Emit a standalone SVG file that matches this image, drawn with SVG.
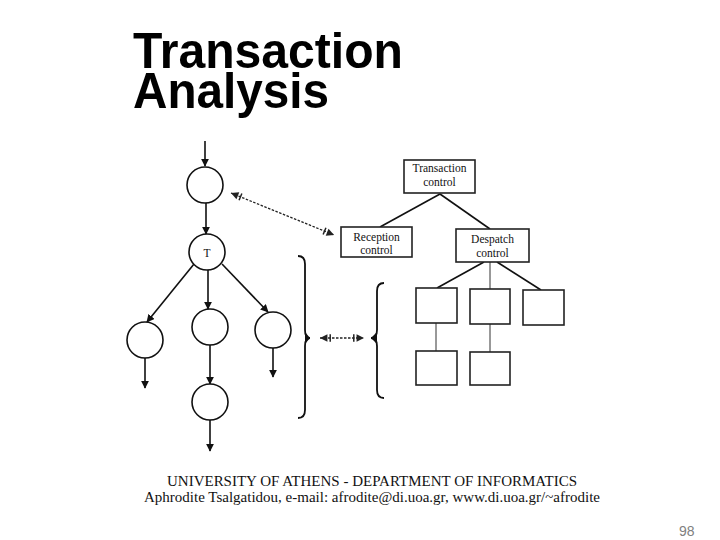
<svg xmlns="http://www.w3.org/2000/svg" width="720" height="540" viewBox="0 0 720 540">
<style>
.title{font-family:"Liberation Sans",Arial,sans-serif;font-weight:bold;font-size:50px;fill:#000}
.lbl{font-family:"Liberation Serif","Times New Roman",serif;font-size:11.5px;fill:#111;text-anchor:middle}
.foot{font-family:"Liberation Serif","Times New Roman",serif;font-size:15px;fill:#111}
.pg{font-family:"Liberation Sans",Arial,sans-serif;font-size:14px;fill:#808080}
.node{fill:#fff;stroke:#111;stroke-width:1.6}
.box{fill:#fff;stroke:#222;stroke-width:1.6}
.ln{stroke:#111;stroke-width:1.6;fill:none}
.thin{stroke:#333;stroke-width:1;fill:none}
.dash{stroke:#222;stroke-width:1.3;stroke-dasharray:2.5,1.5;fill:none}
.brace{stroke:#111;stroke-width:1.8;fill:none}
</style>
<defs>
<marker id="ah" viewBox="0 0 10 10" refX="9" refY="5" markerWidth="8" markerHeight="8" markerUnits="userSpaceOnUse" orient="auto">
<path d="M0,0 L10,5 L0,10 z" fill="#111"/>
</marker>
<marker id="dh" viewBox="0 0 14 10" refX="13" refY="5" markerWidth="13" markerHeight="10" markerUnits="userSpaceOnUse" orient="auto-start-reverse">
<path d="M5,1 L13,5 L5,9 z" fill="#222"/>
<path d="M2,1 L2,9" stroke="#222" stroke-width="1.6"/>
</marker>
</defs>
<rect width="720" height="540" fill="#fff"/>
<text class="title" x="133" y="68" textLength="270" lengthAdjust="spacingAndGlyphs">Transaction</text>
<text class="title" x="133" y="108" textLength="196" lengthAdjust="spacingAndGlyphs">Analysis</text>

<g id="connectors">
<line class="ln" x1="205" y1="141" x2="205" y2="166" marker-end="url(#ah)"/>
<line class="ln" x1="206" y1="203" x2="206" y2="234" marker-end="url(#ah)"/>
<line class="ln" x1="194" y1="264" x2="147" y2="322" marker-end="url(#ah)"/>
<line class="ln" x1="208" y1="270" x2="208" y2="309" marker-end="url(#ah)"/>
<line class="ln" x1="222" y1="264" x2="268" y2="312" marker-end="url(#ah)"/>
<line class="ln" x1="145" y1="358" x2="145" y2="388" marker-end="url(#ah)"/>
<line class="ln" x1="210" y1="345" x2="210" y2="384" marker-end="url(#ah)"/>
<line class="ln" x1="273" y1="348" x2="273" y2="377" marker-end="url(#ah)"/>
<line class="ln" x1="210" y1="420" x2="210" y2="451" marker-end="url(#ah)"/>
<line class="dash" x1="231" y1="193" x2="334" y2="235" marker-start="url(#dh)" marker-end="url(#dh)"/>
<line class="dash" x1="320" y1="338" x2="364" y2="338" marker-start="url(#dh)" marker-end="url(#dh)"/>
<line class="ln" x1="440" y1="194" x2="380" y2="227"/>
<line class="ln" x1="440" y1="194" x2="490" y2="229"/>
<line class="ln" x1="484" y1="262" x2="437" y2="288"/>
<line class="thin" x1="490" y1="262" x2="490" y2="289"/>
<line class="ln" x1="497" y1="262" x2="541" y2="290"/>
<line class="thin" x1="436" y1="323" x2="436" y2="351"/>
<line class="thin" x1="490" y1="324" x2="490" y2="352"/>
</g>

<g id="n1"><circle class="node" cx="205" cy="185" r="18"/></g>
<g id="nT"><circle class="node" cx="207" cy="252" r="18"/><text class="lbl" x="207" y="257">T</text></g>
<g id="nL"><circle class="node" cx="145" cy="340" r="18"/></g>
<g id="nM"><circle class="node" cx="210" cy="327" r="18"/></g>
<g id="nR"><circle class="node" cx="273" cy="330" r="18"/></g>
<g id="nB"><circle class="node" cx="210" cy="402" r="18"/></g>

<g id="braceR"><path class="brace" d="M298,256 Q305,256 305,264 L305,330 Q305,338 310,338 Q305,338 305,346 L305,410 Q305,418 298,418"/><path d="M305,332 L310,338 L305,344 z" fill="#111"/></g>
<g id="braceL"><path class="brace" d="M384,283 Q377,283 377,291 L377,330 Q377,338 371,338 Q377,338 377,346 L377,390 Q377,398 384,398"/><path d="M377,332 L371,338 L377,344 z" fill="#111"/></g>

<g id="tc"><rect class="box" x="404" y="160" width="71" height="33"/><text class="lbl" x="439.5" y="172">Transaction</text><text class="lbl" x="439.5" y="186">control</text></g>
<g id="rc"><rect class="box" x="341" y="227" width="71" height="30"/><text class="lbl" x="376.5" y="241">Reception</text><text class="lbl" x="376.5" y="254">control</text></g>
<g id="dc"><rect class="box" x="456" y="229" width="73" height="33"/><text class="lbl" x="492.5" y="243">Despatch</text><text class="lbl" x="492.5" y="257">control</text></g>

<g id="bA"><rect class="box" x="416" y="288" width="41" height="35"/></g>
<g id="bB"><rect class="box" x="470" y="289" width="40" height="35"/></g>
<g id="bC"><rect class="box" x="523" y="290" width="41" height="35"/></g>
<g id="bD"><rect class="box" x="416" y="351" width="41" height="34"/></g>
<g id="bE"><rect class="box" x="470" y="352" width="40" height="33"/></g>

<text class="foot" x="167" y="486" textLength="410" lengthAdjust="spacingAndGlyphs">UNIVERSITY OF ATHENS - DEPARTMENT OF INFORMATICS</text>
<text class="foot" x="144" y="502" textLength="456" lengthAdjust="spacingAndGlyphs">Aphrodite Tsalgatidou, e-mail: afrodite@di.uoa.gr, www.di.uoa.gr/~afrodite</text>
<text class="pg" x="679" y="536">98</text>
</svg>
